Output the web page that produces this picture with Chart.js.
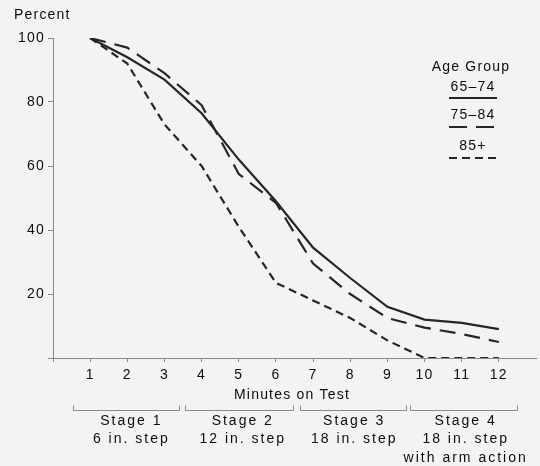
<!DOCTYPE html>
<html>
<head>
<meta charset="utf-8">
<script src="https://cdn.jsdelivr.net/npm/chart.js@4/dist/chart.umd.min.js"></script>
<style>
html,body{margin:0;padding:0;background:#f3f3f3;}
#wrap{width:540px;height:466px;}
</style>
</head>
<body>
<div id="wrap"><canvas id="c" width="540" height="466"></canvas></div>
<script>
const minutes = [1, 2, 3, 4, 5, 6, 7, 8, 9, 10, 11, 12];
const age6574 = [100, 94, 87, 76.5, 62, 49, 34.5, 25, 16, 12, 11, 9];
const age7584 = [100, 97, 89, 79, 57.5, 48.5, 29.5, 20, 12.5, 9.5, 7.5, 5];
const age85plus = [100, 92, 73, 60, 41, 23.5, 18, 12.5, 5.5, 0, 0, 0];
const seriesNames = ['65\u201374', '75\u201384', '85+'];
const xTicks = [0, 1, 2, 3, 4, 5, 6, 7, 8, 9, 10, 11, 12];
const yTicks = [0, 20, 40, 60, 80, 100];
const stageTitles = ['Stage 1', 'Stage 2', 'Stage 3', 'Stage 4'];
const stageSteps = [['6 in. step'], ['12 in. step'], ['18 in. step'], ['18 in. step', 'with arm action']];
const stageCenters = [2, 5, 8, 11];
const stageSpans = [[0.55, 3.4], [3.55, 6.45], [6.65, 9.5], [9.6, 12.5]];

const INK = '#262626';
const TEXT = '#0d0d0d';
const AXIS = '#8a8a8a';
const FONT = '"Liberation Sans", Arial, sans-serif';
const dashes = [[], [16, 9], [8, 5]];

function pts(arr) { return minutes.map((m, i) => ({x: m, y: arr[i]})); }

const spacing = {
  id: 'spacing',
  beforeUpdate(chart) { chart.ctx.letterSpacing = '1.2px'; },
  beforeLayout(chart) { chart.ctx.letterSpacing = '1.2px'; },
  beforeDraw(chart) {
    const ctx = chart.ctx;
    ctx.save();
    ctx.fillStyle = '#f3f3f3';
    ctx.fillRect(0, 0, chart.width, chart.height);
    ctx.restore();
    ctx.letterSpacing = '1.2px';
  }
};

const extras = {
  id: 'extras',
  afterDraw(chart) {
    const ctx = chart.ctx;
    const xs = chart.scales.x;
    ctx.save();
    ctx.fillStyle = TEXT;
    ctx.textBaseline = 'middle';
    ctx.font = '14px ' + FONT;
    ctx.letterSpacing = '1.2px';
    ctx.textAlign = 'left';
    ctx.fillText('Percent', 14, 15);
    ctx.textAlign = 'center';
    ctx.fillText('Minutes on Test', 292, 395);
    ctx.fillText('Age Group', 471, 67);
    const legY = [87, 115, 146];
    const lineY = [98, 127, 158];
    const legDash = [[], [18, 9], [8, 5]];
    seriesNames.forEach((n, i) => {
      ctx.fillText(n, 473, legY[i]);
      ctx.beginPath();
      ctx.setLineDash(legDash[i]);
      ctx.lineWidth = 2;
      ctx.strokeStyle = INK;
      ctx.moveTo(449, lineY[i]);
      ctx.lineTo(497, lineY[i]);
      ctx.stroke();
    });
    ctx.setLineDash([]);
    ctx.strokeStyle = AXIS;
    ctx.lineWidth = 1;
    stageSpans.forEach(s => {
      const a = Math.round(xs.getPixelForValue(s[0])) + 0.5;
      const b = Math.round(xs.getPixelForValue(s[1])) + 0.5;
      ctx.beginPath();
      ctx.moveTo(a, 405.5);
      ctx.lineTo(a, 410.5);
      ctx.lineTo(b, 410.5);
      ctx.lineTo(b, 405.5);
      ctx.stroke();
    });
    ctx.letterSpacing = '2px';
    stageTitles.forEach((t, i) => {
      const cx = xs.getPixelForValue(stageCenters[i]) + 4;
      ctx.fillText(t, cx, 421);
      stageSteps[i].forEach((l, j) => ctx.fillText(l, cx, 439.5 + j * 18.5));
    });
    ctx.restore();
  }
};

new Chart(document.getElementById('c'), {
  type: 'line',
  data: {
    datasets: [age6574, age7584, age85plus].map((arr, i) => ({
      label: seriesNames[i],
      data: pts(arr),
      borderColor: INK,
      borderWidth: 2.2,
      borderDash: dashes[i],
      pointRadius: 0,
      tension: 0,
      fill: false
    }))
  },
  options: {
    responsive: false,
    animation: false,
    devicePixelRatio: 1,
    layout: {padding: {top: 38, right: 4, left: 0, bottom: 0}},
    plugins: {legend: {display: false}, tooltip: {enabled: false}},
    scales: {
      x: {
        type: 'linear', min: 0, max: 13,
        afterBuildTicks: s => { s.ticks = xTicks.map(v => ({value: v})); },
        afterFit: s => { s.height = 108; },
        grid: {drawOnChartArea: false, drawTicks: true, tickLength: 4, color: AXIS},
        border: {color: AXIS, width: 1},
        ticks: {
          color: TEXT, padding: 5, maxRotation: 0, autoSkip: false,
          font: {size: 14, family: FONT},
          callback: v => v === 0 ? '' : String(v)
        }
      },
      y: {
        min: 0, max: 100,
        afterBuildTicks: s => { s.ticks = yTicks.map(v => ({value: v})); },
        afterFit: s => { s.width = 53; },
        grid: {drawOnChartArea: false, drawTicks: true, tickLength: 5, color: AXIS},
        border: {color: AXIS, width: 1},
        ticks: {
          color: TEXT, padding: 3,
          font: {size: 14, family: FONT},
          callback: v => v === 0 ? '' : String(v)
        }
      }
    }
  },
  plugins: [spacing, extras]
});
</script>
</body>
</html>
